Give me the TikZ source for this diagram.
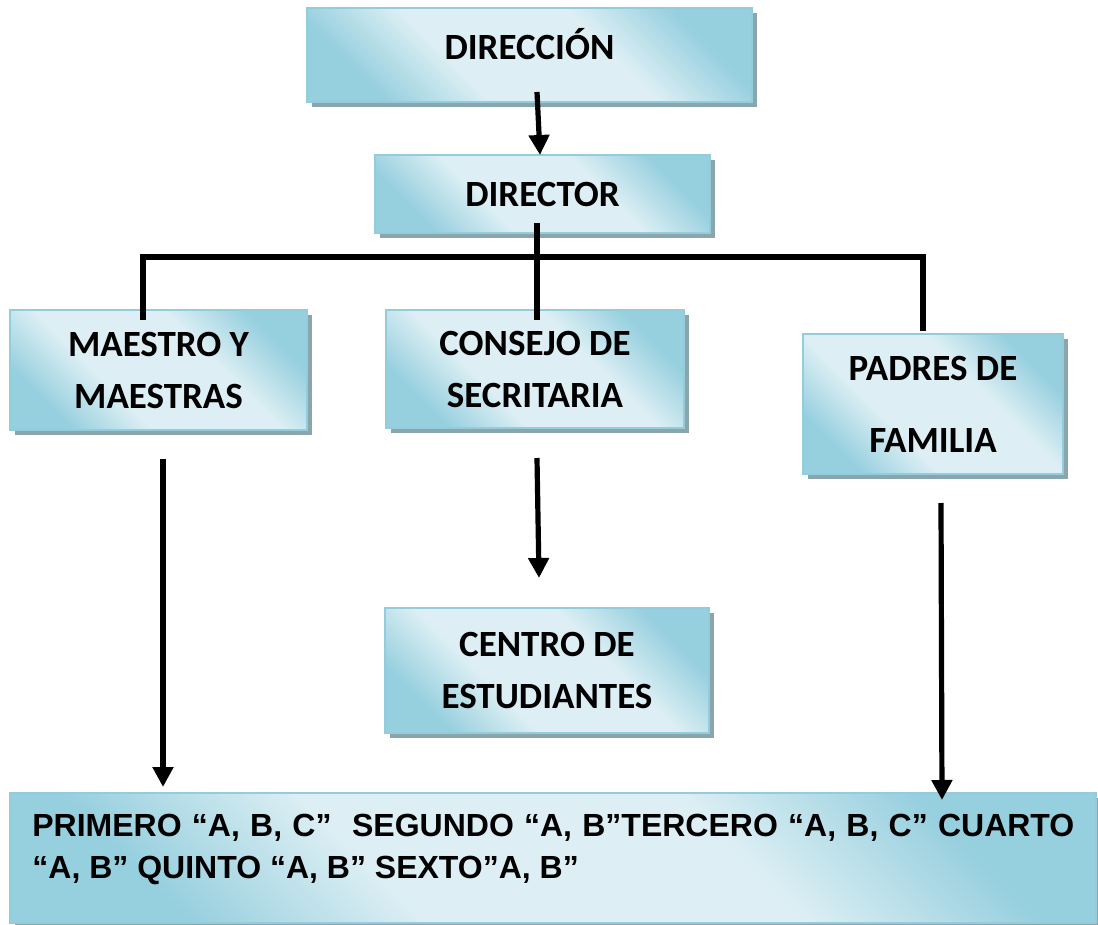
\documentclass[tikz,border=0pt]{standalone}
\usepackage{fontspec}
\setmainfont{Carlito}
\newfontfamily\arialf{Liberation Sans}
\usetikzlibrary{arrows.meta,shadows}
\definecolor{aqd}{HTML}{96CFDE}
\definecolor{aql}{HTML}{DDEFF4}
\definecolor{aqb}{HTML}{93CDDD}
\definecolor{shc}{HTML}{8BA5AC}
\pgfdeclarehorizontalshading{aqua}{100bp}{color(0bp)=(aqd); color(25bp)=(aqd); color(39bp)=(aql); color(61bp)=(aql); color(75bp)=(aqd); color(100bp)=(aqd)}
\tikzset{
  orgbox/.style={draw=aqb, line width=1pt, shading=aqua, shading angle=45,
    drop shadow={shadow xshift=2.5pt, shadow yshift=-2.5pt, fill=shc, opacity=1},
    inner sep=0pt, font=\bfseries\fontsize{18.5}{26}\selectfont, align=center},
  boxtxt/.style={font=\bfseries\fontsize{18.5}{26}\selectfont, inner sep=0pt},
  bottxt/.style={font=\arialf\bfseries\fontsize{16}{21}\selectfont, inner sep=0pt, align=left},
  conn/.style={line width=2.6pt, black},
  arr/.style={conn, -{Triangle[width=10pt,length=10pt]}},
}
\begin{document}
\begin{tikzpicture}[x=0.5pt,y=-0.5pt]
\useasboundingbox (0,0) rectangle (1098,925);
\node[orgbox, minimum width=222.5pt, minimum height=47pt,
  label={[boxtxt, name=dirt, yshift=5.5pt]center:DIRECCIÓN}] (dir) at (529.5,55) {};
\node[orgbox, minimum width=167.5pt, minimum height=39pt] (dtor) at (542.5,194) {DIRECTOR};
\node[orgbox, minimum width=148.5pt, minimum height=60pt] (maes) at (158.5,370) {MAESTRO Y\\MAESTRAS};
\node[orgbox, minimum width=149pt, minimum height=59pt] (cons) at (535,369) {CONSEJO DE\\SECRITARIA};
\node[orgbox, minimum width=130pt, minimum height=70pt, font=\bfseries\fontsize{18.5}{36}\selectfont] (pad) at (933,404) {PADRES DE\\FAMILIA};
\node[orgbox, minimum width=162pt, minimum height=62.5pt] (cent) at (547,670.5) {CENTRO DE\\ESTUDIANTES};
\node[orgbox, minimum width=543pt, minimum height=65pt] (bot) at (553,858) {};
\node[bottxt, anchor=north west] (bott) at ([xshift=11.5pt,yshift=-11pt]bot.north west)
  {\makebox[521pt][s]{PRIMERO “A, B, C”\ \ SEGUNDO “A, B”TERCERO “A, B, C” CUARTO}\\“A, B” QUINTO “A, B” SEXTO”A, B”};
% connectors
\coordinate (a1s) at (537,92);
\coordinate (a1e) at (540,155);
\draw[arr] (a1s) -- (a1e);
\coordinate (th) at (0,257);
\coordinate (tl) at (143,320);
\coordinate (tr) at (923,331);
\coordinate (ts) at (537,223);
\coordinate (tc) at (537,320);
\draw[conn, line join=miter] (tl) -- (tl |- th) -- (tr |- th) -- (tr);
\draw[conn] (ts) -- (tc);
\coordinate (m1) at (163,459);
\coordinate (m2) at (163,787);
\draw[arr] (m1) -- (m2);
\coordinate (c1) at (537,458);
\coordinate (c2) at (539,578);
\draw[arr] (c1) -- (c2);
\coordinate (p1) at (941,503);
\coordinate (p2) at (942,800);
\draw[arr] (p1) -- (p2);
\end{tikzpicture}
\end{document}
